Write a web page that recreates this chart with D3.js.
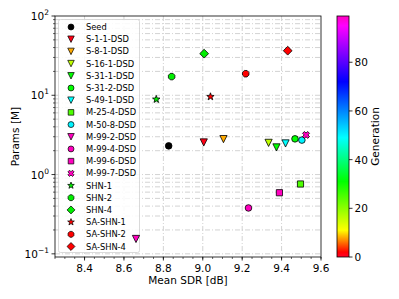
<!DOCTYPE html>
<html>
<head>
<meta charset="utf-8">
<script src="https://cdn.jsdelivr.net/npm/d3@7"></script>
<style>
body { margin: 0; background: #fff; }
text { font-family: "DejaVu Sans", sans-serif; fill: #000; }
</style>
</head>
<body>
<script>
// models, in legend order
const names = ["Seed", "S-1-1-DSD", "S-8-1-DSD", "S-16-1-DSD", "S-31-1-DSD", "S-31-2-DSD", "S-49-1-DSD",
    "M-25-4-DSD", "M-50-8-DSD", "M-99-2-DSD", "M-99-4-DSD", "M-99-6-DSD", "M-99-7-DSD",
    "SHN-1", "SHN-2", "SHN-4", "SA-SHN-1", "SA-SHN-2", "SA-SHN-4"];
const meanSdr = [8.827, 9.005, 9.105, 9.334, 9.374, 9.468, 9.420,
    9.496, 9.503, 8.661, 9.232, 9.389, 9.524,
    8.764, 8.842, 9.007, 9.039, 9.218, 9.431];
const paramsM = [2.30, 2.54, 2.80, 2.51, 2.20, 2.82, 2.47,
    0.76, 2.72, 0.154, 0.379, 0.59, 3.16,
    8.9, 17.2, 33.5, 9.6, 18.7, 36.5];
// generation (null = fixed colour)
const generation = [null, 1, 8, 16, 31, 31, 49, 25, 50, 99, 99, 99, 99, null, null, null, null, null, null];
const fixedColor = ["#000000", null, null, null, null, null, null, null, null, null, null, null, null,
    "#00ee00", "#00ee00", "#00ee00", "#ff0000", "#ff0000", "#ff0000"];
const markers = ["o", "v", "v", "v", "v", "o", "v", "s", "o", "v", "o", "s", "X", "*", "8", "D", "*", "8", "D"];

const xTicks = [8.4, 8.6, 8.8, 9.0, 9.2, 9.4, 9.6];
const yDecades = [-1, 0, 1, 2];
const cbTicks = [0, 20, 40, 60, 80];

const width = 399, height = 299;
const margin = { top: 16, right: 78, bottom: 42, left: 55 };

const svg = d3.select("body").append("svg")
    .attr("width", width).attr("height", height);

const x = d3.scaleLinear().domain([8.25, 9.6]).range([margin.left, width - margin.right]);
const y = d3.scaleLog().domain([0.0912, 100]).range([height - margin.bottom, margin.top]);

// colormap
const cmapStops = [0, 2, 11, 31, 49, 72, 95, 99];
const cmapColors = ["#ff0029", "#ff0000", "#ffff00", "#00ff00", "#00ffff", "#0000ff", "#ff00ff", "#ff00bf"];
const color = d3.scaleLinear().domain(cmapStops).range(cmapColors).clamp(true);

function fillOf(i) {
    return fixedColor[i] || color(generation[i]);
}

// marker paths, roughly matplotlib shapes
function markerPath(m) {
    const p = d3.path();
    const poly = pts => { pts.forEach((q, k) => k ? p.lineTo(q[0], q[1]) : p.moveTo(q[0], q[1])); p.closePath(); };
    if (m === "o") { p.arc(0, 0, 3.3, 0, 2 * Math.PI); }
    else if (m === "v") { const r = 3.6; poly([[0, r], [-r, -r], [r, -r]]); }
    else if (m === "s") { const r = 3.1; poly([[-r, -r], [r, -r], [r, r], [-r, r]]); }
    else if (m === "D") { const r = 4.4; poly([[0, -r], [r, 0], [0, r], [-r, 0]]); }
    else if (m === "8") {
        const r = 3.5, pts = [];
        for (let k = 0; k < 8; k++) { const a = Math.PI / 8 + k * Math.PI / 4; pts.push([r * Math.cos(a), r * Math.sin(a)]); }
        poly(pts);
    }
    else if (m === "*") {
        const ro = 3.9, ri = 1.6, pts = [];
        for (let k = 0; k < 10; k++) {
            const a = -Math.PI / 2 + k * Math.PI / 5, r = k % 2 ? ri : ro;
            pts.push([r * Math.cos(a), r * Math.sin(a)]);
        }
        poly(pts);
    }
    else if (m === "X") {
        const r = 3.6, w = 1.3, pts = [];
        const arm = [[-w, -r], [w, -r], [w, -w], [r, -w], [r, w], [w, w], [w, r], [-w, r], [-w, w], [-r, w], [-r, -w], [-w, -w]];
        arm.forEach(q => {
            const a = Math.PI / 4;
            pts.push([q[0] * Math.cos(a) - q[1] * Math.sin(a), q[0] * Math.sin(a) + q[1] * Math.cos(a)]);
        });
        poly(pts);
    }
    return p.toString();
}

const plot = svg.append("g");
const x0 = margin.left, x1 = width - margin.right, y0 = margin.top, y1 = height - margin.bottom;

// grid lines: y at major and minor log ticks, x at major ticks
const yGrid = [];
yDecades.forEach(d => {
    yGrid.push(Math.pow(10, d));
    if (d < 2) for (let k = 2; k < 10; k++) yGrid.push(k * Math.pow(10, d));
});
plot.append("g").selectAll("line").data(yGrid.filter(v => v > y.domain()[0] && v < 100)).enter().append("line")
    .attr("x1", x0).attr("x2", x1)
    .attr("y1", d => y(d)).attr("y2", d => y(d))
    .attr("stroke", "#c8c8c8").attr("stroke-width", 0.8)
    .attr("stroke-dasharray", "5,2,1,2");
plot.append("g").selectAll("line").data(xTicks.slice(0, -1)).enter().append("line")
    .attr("x1", d => x(d)).attr("x2", d => x(d))
    .attr("y1", y0).attr("y2", y1)
    .attr("stroke", "#c8c8c8").attr("stroke-width", 0.8)
    .attr("stroke-dasharray", "5,2,1,2");

// legend
const lg = svg.append("g");
lg.append("rect").attr("x", 58.5).attr("y", 19.5).attr("width", 81).attr("height", 233).attr("rx", 2)
    .attr("fill", "#fff").attr("fill-opacity", 0.85).attr("stroke", "#d0d0d0").attr("stroke-width", 0.8);
const rowY = d3.scaleLinear().domain([0, names.length - 1]).range([27, 246.5]);
const rows = lg.selectAll("g.row").data(names).enter().append("g")
    .attr("transform", (d, i) => "translate(0," + rowY(i) + ")");
rows.append("path").attr("d", (d, i) => markerPath(markers[i]))
    .attr("transform", "translate(71,0) scale(0.9)")
    .attr("fill", (d, i) => fillOf(i)).attr("stroke", "#000").attr("stroke-width", 0.8);
rows.append("text").attr("x", 86).attr("y", 3).attr("font-size", 8.3).text(d => d);

// points (on top of the legend)
svg.append("g").selectAll("path").data(names).enter().append("path")
    .attr("d", (d, i) => markerPath(markers[i]))
    .attr("transform", (d, i) => "translate(" + x(meanSdr[i]) + "," + y(paramsM[i]) + ")")
    .attr("fill", (d, i) => fillOf(i))
    .attr("stroke", "#000").attr("stroke-width", 0.8);

// frame
svg.append("rect").attr("x", x0).attr("y", y0).attr("width", x1 - x0).attr("height", y1 - y0)
    .attr("fill", "none").attr("stroke", "#000").attr("stroke-width", 0.8);

// x ticks
const xMinor = d3.range(8.25, 9.6001, 0.05);
svg.append("g").selectAll("line").data(xMinor).enter().append("line")
    .attr("x1", d => x(d)).attr("x2", d => x(d)).attr("y1", y1).attr("y2", y1 + 2)
    .attr("stroke", "#000").attr("stroke-width", 0.6);
svg.append("g").selectAll("line").data(xTicks).enter().append("line")
    .attr("x1", d => x(d)).attr("x2", d => x(d)).attr("y1", y1).attr("y2", y1 + 3.5)
    .attr("stroke", "#000").attr("stroke-width", 0.8);
svg.append("g").selectAll("text").data(xTicks).enter().append("text")
    .attr("x", d => x(d)).attr("y", y1 + 15)
    .attr("text-anchor", "middle").attr("font-size", 10.5)
    .text(d => d.toFixed(1));

// y ticks
svg.append("g").selectAll("line").data(yGrid.filter(v => v > y.domain()[0])).enter().append("line")
    .attr("x1", x0).attr("x2", d => Number.isInteger(Math.log10(d)) ? x0 - 3.5 : x0 - 2)
    .attr("y1", d => y(d)).attr("y2", d => y(d))
    .attr("stroke", "#000").attr("stroke-width", d => Number.isInteger(Math.log10(d)) ? 0.8 : 0.6);
const yLab = svg.append("g").selectAll("text").data(yDecades).enter().append("text")
    .attr("x", x0 - 6).attr("y", d => y(Math.pow(10, d)) + 4)
    .attr("text-anchor", "end").attr("font-size", 10.5);
yLab.append("tspan").text("10");
yLab.append("tspan").attr("dy", -5).attr("font-size", 7.5).text(d => d < 0 ? "\u2212" + (-d) : d);

// axis labels
svg.append("text").attr("x", (x0 + x1) / 2).attr("y", 284)
    .attr("text-anchor", "middle").attr("font-size", 10.5).text("Mean SDR [dB]");
svg.append("text").attr("transform", "translate(19," + (y0 + y1) / 2 + ") rotate(-90)")
    .attr("text-anchor", "middle").attr("font-size", 10.5).text("Params [M]");

// colour bar
const cb = { x: 337, w: 12, top: y0, bottom: y1 };
const cbScale = d3.scaleLinear().domain([0, 99]).range([cb.bottom, cb.top]);
const grad = svg.append("defs").append("linearGradient").attr("id", "cbgrad")
    .attr("x1", 0).attr("y1", 1).attr("x2", 0).attr("y2", 0);
d3.range(0, 100, 1).forEach(g => {
    grad.append("stop").attr("offset", g / 99).attr("stop-color", color(g));
});
svg.append("rect").attr("x", cb.x).attr("y", cb.top).attr("width", cb.w).attr("height", cb.bottom - cb.top)
    .attr("fill", "url(#cbgrad)").attr("stroke", "#000").attr("stroke-width", 0.8);
svg.append("g").selectAll("line").data(cbTicks).enter().append("line")
    .attr("x1", cb.x + cb.w).attr("x2", cb.x + cb.w + 3.5)
    .attr("y1", d => cbScale(d)).attr("y2", d => cbScale(d))
    .attr("stroke", "#000").attr("stroke-width", 0.8);
svg.append("g").selectAll("text").data(cbTicks).enter().append("text")
    .attr("x", cb.x + cb.w + 5.5).attr("y", d => cbScale(d) + 4)
    .attr("font-size", 10.5).text(d => d);
svg.append("text").attr("transform", "translate(379," + (cb.top + cb.bottom) / 2 + ") rotate(-90)")
    .attr("text-anchor", "middle").attr("font-size", 10.5).text("Generation");
</script>
</body>
</html>
